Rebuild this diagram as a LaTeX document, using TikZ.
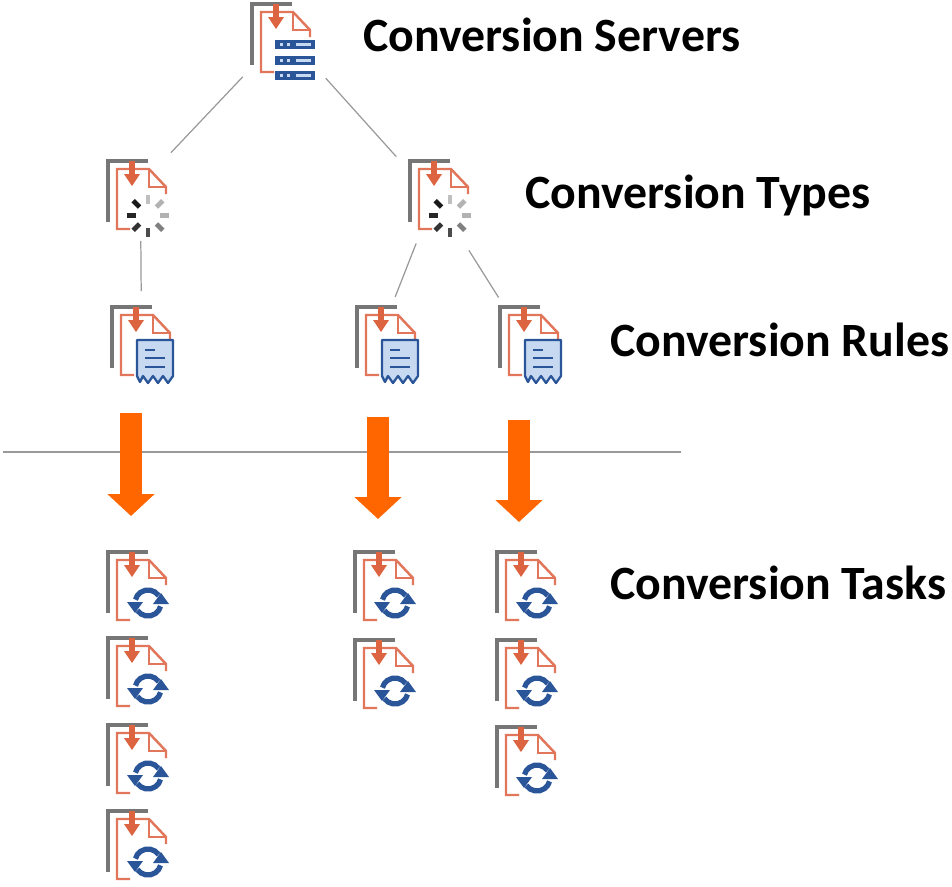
\documentclass[tikz,border=0pt]{standalone}
\usepackage{fontspec}
\setmainfont{Carlito}
\usetikzlibrary{arrows.meta}
\definecolor{docgray}{HTML}{767676}
\definecolor{docorange}{HTML}{E2765A}
\definecolor{docarrow}{HTML}{DD6440}
\definecolor{badgeblue}{HTML}{2A5599}
\definecolor{badgepale}{HTML}{C6D9F1}
\definecolor{flowarrow}{HTML}{FF6600}
\tikzset{
    hub/.style = {circle,minimum size=1.6cm,inner sep=0,outer sep=0},
    link/.style = {draw=gray!80,line width=0.7pt},
    flow/.style = {draw=flowarrow,line width=0.44cm,-{Triangle[length=0.44cm,width=0.92cm]}},
    level/.style = {anchor=west,inner sep=0,font=\fontsize{27.2}{30}\selectfont\bfseries},
    docicon/.pic = {
        \draw[docgray,line width=1.9pt] (0,61) -- (0,0) -- (40,0);
        \draw[docorange,line width=1.4pt] (22,68) -- (9,68) -- (9,8) -- (41,8) -- (58,26) -- (58,33);
        \draw[docorange,line width=1.4pt] (41,8) -- (41,26) -- (58,26);
        \draw[docarrow,line width=3.6pt] (24,0) -- (24,14);
        \fill[docarrow] (16,13) -- (32,13) -- (24,25) -- cycle;
    },
    srvicon/.pic = {
        \pic {docicon};
        \foreach \y in {36,52,67} {
            \fill[badgeblue] (23,\y) rectangle (63,\y+9);
            \fill[badgepale] (28,\y+3) rectangle (31,\y+6);
            \fill[badgepale] (35,\y+3) rectangle (38,\y+6);
            \fill[badgepale] (44,\y+3) rectangle (59,\y+6);
        }
    },
    typeicon/.pic = {
        \pic {docicon};
        \foreach \a/\g in {-90/25,-45/30,0/30,45/50,90/70,135/80,180/85,225/90}
            \draw[black!\g,line width=2.8pt] (40,54.5) ++(\a:12) -- ++(\a:9);
    },
    ruleicon/.pic = {
        \pic {docicon};
        \draw[badgeblue,line width=1.3pt,fill=badgepale,line join=round] (25,33) -- (61,33) -- (61,69) -- (56,76)
            -- (51,69) -- (46,76) -- (41,69) -- (36,76) -- (31,69) -- (28,75) -- (25,69) -- cycle;
        \draw[badgeblue,line width=1.3pt] (33,43) -- (43,43) (33,51) -- (53,51) (33,60) -- (53,60);
    },
    taskicon/.pic = {
        \pic {docicon};
        \draw[badgeblue,line width=3pt] (40,51) ++(-35:13) arc[start angle=-35,end angle=-165,radius=13];
        \fill[badgeblue] (19,50) -- (35,50) -- (27,61) -- cycle;
        \draw[badgeblue,line width=3pt] (40,51) ++(145:13) arc[start angle=145,end angle=15,radius=13];
        \fill[badgeblue] (45,52) -- (61,52) -- (53,41) -- cycle;
    }
}

\begin{document}
\begin{tikzpicture}[x=0.02cm,y=-0.02cm]
    \useasboundingbox (0,0) rectangle (952,886);
    % Icons
    \path (252,4) pic {srvicon} +(30,38) node[hub] (srv) {};
    \foreach \name/\x/\y in {typeA/108/161,typeB/410/161}
        \path (\x,\y) pic {typeicon} +(30,38) node[hub] (\name) {};
    \foreach \name/\x/\y in {ruleA/112/307,ruleB/357/307,ruleC/500/307}
        \path (\x,\y) pic {ruleicon} +(30,38) node[hub] (\name) {};
    \foreach \name/\x/\y in {taskA/108/552,taskB/108/638,taskC/108/725,taskD/108/811,
                             taskE/355/552,taskF/355/640,
                             taskG/497/552,taskH/497/640,taskI/497/727}
        \path (\x,\y) pic {taskicon} +(30,38) node[hub] (\name) {};
    % Links
    \foreach \src/\dest/\s/\e in {srv.220/typeA.58/12.5/17,srv.-36/typeB.138/17/21,
                                  typeA.-86/ruleA.91/2/14,typeB.240/ruleB.83/10.6/9,
                                  typeB.-62/ruleC.124/19/17}
        \draw[link,shorten <=\s*0.02cm,shorten >=\e*0.02cm] (\src) to (\dest);
    % Divider
    \coordinate (divl) at (3,452);
    \coordinate (divr) at (681,452);
    \draw[link] (divl) to (divr);
    % Flow arrows
    \coordinate (flowAs) at (131,413);
    \coordinate (flowAe) at (131,516);
    \coordinate (flowBs) at (378,417);
    \coordinate (flowBe) at (378,519);
    \coordinate (flowCs) at (519,420);
    \coordinate (flowCe) at (519,522);
    \foreach \src/\dest in {flowAs/flowAe,flowBs/flowBe,flowCs/flowCe}
        \draw[flow] (\src) to (\dest);
    % Levels
    \node[level] (lsrv) at (363,35) {Conversion Servers};
    \node[level] (ltype) at (525,195) {Conversion Types};
    \node[level] (lrule) at (610,340) {Conversion Rules};
    \node[level] (ltask) at (610,583) {Conversion Tasks};
\end{tikzpicture}
\end{document}
